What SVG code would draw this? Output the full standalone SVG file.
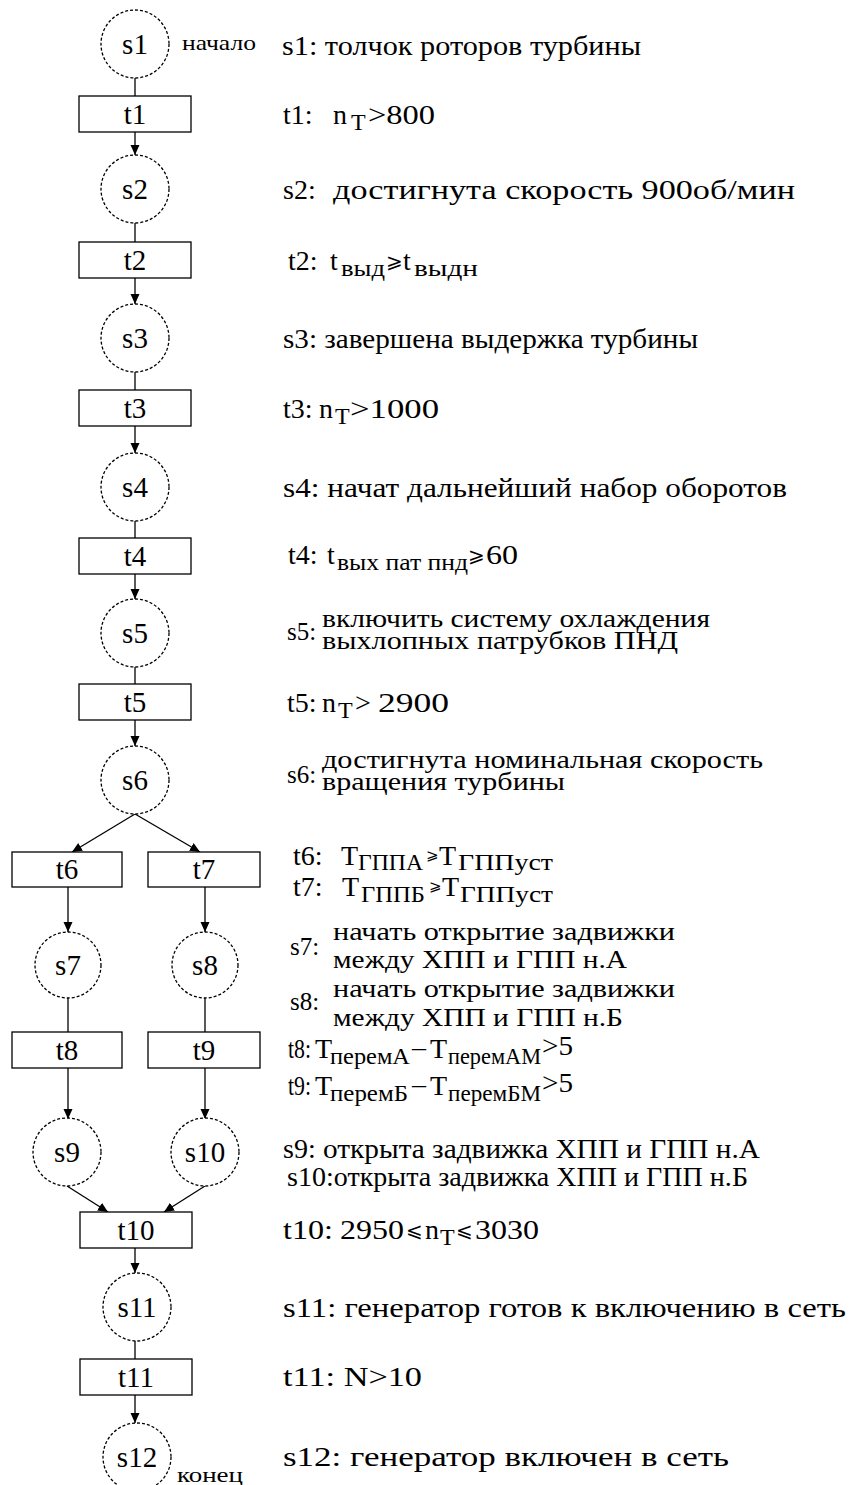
<svg xmlns="http://www.w3.org/2000/svg" width="851" height="1485" viewBox="0 0 851 1485" font-family="'Liberation Serif', 'DejaVu Serif', serif">
  <style>
    text { font-family: 'Liberation Serif', 'DejaVu Serif', serif; fill: #000; }
    .node text { font-size: 29px; text-anchor: middle; }
    .place { fill: #fff; stroke: #000; stroke-width: 1.3; stroke-dasharray: 3 2; }
    .trans { fill: #fff; stroke: #000; stroke-width: 1.3; }
    .lbl { font-size: 28px; }
    .ml { font-size: 25px; }
    .sub { font-size: 24px; }
    text.rel { font-family: 'DejaVu Serif', 'DejaVu Sans', serif; font-size: 20px; }
    text.rel.sm { font-size: 15px; }
    .small { font-size: 22px; }
    .edge { stroke: #000; stroke-width: 1.3; fill: none; }
    .arr { marker-end: url(#ah); }
  </style>
  <defs>
    <marker id="ah" markerUnits="userSpaceOnUse" markerWidth="10" markerHeight="10" refX="10" refY="4.5" orient="auto">
      <path d="M0,0 L10,4.5 L0,9 z" fill="#000"/>
    </marker>
  </defs>

  <!-- connectors -->
  <g id="connectors">
    <line class="edge" x1="135" y1="78" x2="135" y2="96"/>
    <line class="edge arr" x1="135" y1="132" x2="135" y2="155"/>
    <line class="edge" x1="135" y1="223" x2="135" y2="242"/>
    <line class="edge arr" x1="135" y1="278" x2="135" y2="304"/>
    <line class="edge" x1="135" y1="372" x2="135" y2="390"/>
    <line class="edge arr" x1="135" y1="426" x2="135" y2="453"/>
    <line class="edge" x1="135" y1="521" x2="135" y2="538"/>
    <line class="edge arr" x1="135" y1="574" x2="135" y2="599"/>
    <line class="edge" x1="135" y1="667" x2="135" y2="684"/>
    <line class="edge arr" x1="135" y1="720" x2="135" y2="746"/>
    <line class="edge arr" x1="135" y1="814" x2="72" y2="852"/>
    <line class="edge arr" x1="135" y1="814" x2="200" y2="852"/>
    <line class="edge arr" x1="68" y1="887" x2="68" y2="932"/>
    <line class="edge arr" x1="205" y1="887" x2="205" y2="932"/>
    <line class="edge" x1="68" y1="998" x2="68" y2="1032"/>
    <line class="edge" x1="205" y1="998" x2="205" y2="1032"/>
    <line class="edge arr" x1="68" y1="1068" x2="68" y2="1119"/>
    <line class="edge arr" x1="205" y1="1068" x2="205" y2="1119"/>
    <line class="edge arr" x1="67" y1="1186" x2="108" y2="1212"/>
    <line class="edge arr" x1="205" y1="1186" x2="164" y2="1212"/>
    <line class="edge arr" x1="135" y1="1248" x2="135" y2="1273"/>
    <line class="edge" x1="135" y1="1341" x2="135" y2="1359"/>
    <line class="edge arr" x1="135" y1="1395" x2="135" y2="1423"/>
  </g>

  <!-- places -->
  <g id="s1" class="node"><circle class="place" cx="135" cy="44" r="34"/><text x="135" y="54">s1</text></g>
  <g id="s2" class="node"><circle class="place" cx="135" cy="189" r="34"/><text x="135" y="199">s2</text></g>
  <g id="s3" class="node"><circle class="place" cx="135" cy="338" r="34"/><text x="135" y="348">s3</text></g>
  <g id="s4" class="node"><circle class="place" cx="135" cy="487" r="34"/><text x="135" y="497">s4</text></g>
  <g id="s5" class="node"><circle class="place" cx="135" cy="633" r="34"/><text x="135" y="643">s5</text></g>
  <g id="s6" class="node"><circle class="place" cx="135" cy="780" r="34"/><text x="135" y="790">s6</text></g>
  <g id="s7" class="node"><circle class="place" cx="68" cy="965" r="33"/><text x="68" y="975">s7</text></g>
  <g id="s8" class="node"><circle class="place" cx="205" cy="965" r="33"/><text x="205" y="975">s8</text></g>
  <g id="s9" class="node"><circle class="place" cx="67" cy="1152" r="34"/><text x="67" y="1162">s9</text></g>
  <g id="s10" class="node"><circle class="place" cx="205" cy="1152" r="34"/><text x="205" y="1162">s10</text></g>
  <g id="s11" class="node"><circle class="place" cx="137" cy="1307" r="34"/><text x="137" y="1317">s11</text></g>
  <g id="s12" class="node"><circle class="place" cx="137" cy="1457" r="34"/><text x="137" y="1467">s12</text></g>

  <!-- transitions -->
  <g id="t1" class="node"><rect class="trans" x="79" y="96" width="112" height="36"/><text x="135" y="124">t1</text></g>
  <g id="t2" class="node"><rect class="trans" x="79" y="242" width="112" height="36"/><text x="135" y="270">t2</text></g>
  <g id="t3" class="node"><rect class="trans" x="79" y="390" width="112" height="36"/><text x="135" y="418">t3</text></g>
  <g id="t4" class="node"><rect class="trans" x="79" y="538" width="112" height="36"/><text x="135" y="566">t4</text></g>
  <g id="t5" class="node"><rect class="trans" x="79" y="684" width="112" height="36"/><text x="135" y="712">t5</text></g>
  <g id="t6" class="node"><rect class="trans" x="12" y="852" width="110" height="35"/><text x="67" y="879">t6</text></g>
  <g id="t7" class="node"><rect class="trans" x="148" y="852" width="112" height="35"/><text x="204" y="879">t7</text></g>
  <g id="t8" class="node"><rect class="trans" x="12" y="1032" width="110" height="36"/><text x="67" y="1060">t8</text></g>
  <g id="t9" class="node"><rect class="trans" x="148" y="1032" width="112" height="36"/><text x="204" y="1060">t9</text></g>
  <g id="t10" class="node"><rect class="trans" x="80" y="1212" width="112" height="36"/><text x="136" y="1240">t10</text></g>
  <g id="t11" class="node"><rect class="trans" x="80" y="1359" width="112" height="36"/><text x="136" y="1387">t11</text></g>

  <!-- start / end marks -->
  <text class="small" x="182" y="50" textLength="74" lengthAdjust="spacingAndGlyphs">начало</text>
  <text class="small" x="177" y="1482" textLength="66" lengthAdjust="spacingAndGlyphs">конец</text>

  <!-- descriptions -->
  <g id="legend" class="lbl">
    <text x="282" y="55" textLength="359" lengthAdjust="spacingAndGlyphs">s1: толчок роторов турбины</text>

    <!-- t1: n_T > 800 -->
    <text x="283" y="124">t1:</text>
    <text x="333" y="124">n</text>
    <text class="sub" x="351" y="130">T</text>
    <text x="368" y="124" textLength="67" lengthAdjust="spacingAndGlyphs">&gt;800</text>

    <text x="283" y="199">s2:</text>
    <text x="333" y="199" textLength="462" lengthAdjust="spacingAndGlyphs">достигнута скорость 900об/мин</text>

    <!-- t2: t_выд >= t_выдн -->
    <text x="288" y="270">t2:</text>
    <text x="330" y="270">t</text>
    <text class="sub" x="341" y="276" textLength="44" lengthAdjust="spacingAndGlyphs">выд</text>
    <text class="rel" x="386" y="268">⩾</text>
    <text x="403" y="270">t</text>
    <text class="sub" x="414" y="276" textLength="64" lengthAdjust="spacingAndGlyphs">выдн</text>

    <text x="283" y="348" textLength="415" lengthAdjust="spacingAndGlyphs">s3: завершена выдержка турбины</text>

    <!-- t3: n_T > 1000 -->
    <text x="283" y="418">t3:</text>
    <text x="319" y="418">n</text>
    <text class="sub" x="335" y="424">T</text>
    <text x="350" y="418" textLength="89" lengthAdjust="spacingAndGlyphs">&gt;1000</text>

    <text x="283" y="497" textLength="504" lengthAdjust="spacingAndGlyphs">s4: начат дальнейший набор оборотов</text>

    <!-- t4: t_вых пат пнд >= 60 -->
    <text x="288" y="564">t4:</text>
    <text x="327" y="564">t</text>
    <text class="sub" x="337" y="570" textLength="131" lengthAdjust="spacingAndGlyphs">вых пат пнд</text>
    <text class="rel" x="468" y="562">⩾</text>
    <text x="486" y="564" textLength="32" lengthAdjust="spacingAndGlyphs">60</text>

    <text class="ml" x="287" y="640">s5:</text>
    <text class="ml" x="322" y="627" textLength="388" lengthAdjust="spacingAndGlyphs">включить систему охлаждения</text>
    <text class="ml" x="322" y="649" textLength="356" lengthAdjust="spacingAndGlyphs">выхлопных патрубков ПНД</text>

    <!-- t5: n_T > 2900 -->
    <text x="287" y="712">t5:</text>
    <text x="322" y="712">n</text>
    <text class="sub" x="338" y="718">T</text>
    <text x="355" y="712">&gt;</text>
    <text x="378" y="712" textLength="71" lengthAdjust="spacingAndGlyphs">2900</text>

    <text class="ml" x="287" y="783">s6:</text>
    <text class="ml" x="322" y="768" textLength="441" lengthAdjust="spacingAndGlyphs">достигнута номинальная скорость</text>
    <text class="ml" x="322" y="790" textLength="243" lengthAdjust="spacingAndGlyphs">вращения турбины</text>

    <!-- t6: T_ГППА >= T_ГППуст -->
    <text x="293" y="865">t6:</text>
    <text x="341" y="865">Т</text>
    <text class="sub" x="358" y="870" textLength="65" lengthAdjust="spacingAndGlyphs">ГППА</text>
    <text class="rel sm" x="426" y="860">⩾</text>
    <text x="439" y="865">Т</text>
    <text class="sub" x="458" y="870" textLength="95" lengthAdjust="spacingAndGlyphs">ГППуст</text>

    <!-- t7: T_ГППБ >= T_ГППуст -->
    <text x="293" y="896">t7:</text>
    <text x="342" y="896">Т</text>
    <text class="sub" x="361" y="902" textLength="64" lengthAdjust="spacingAndGlyphs">ГППБ</text>
    <text class="rel sm" x="429" y="891">⩾</text>
    <text x="442" y="896">Т</text>
    <text class="sub" x="460" y="902" textLength="93" lengthAdjust="spacingAndGlyphs">ГППуст</text>

    <text class="ml" x="290" y="955">s7:</text>
    <text class="ml" x="333" y="940" textLength="342" lengthAdjust="spacingAndGlyphs">начать открытие задвижки</text>
    <text class="ml" x="333" y="968" textLength="294" lengthAdjust="spacingAndGlyphs">между ХПП и ГПП н.А</text>

    <text class="ml" x="290" y="1010">s8:</text>
    <text class="ml" x="333" y="997" textLength="342" lengthAdjust="spacingAndGlyphs">начать открытие задвижки</text>
    <text class="ml" x="333" y="1026" textLength="290" lengthAdjust="spacingAndGlyphs">между ХПП и ГПП н.Б</text>

    <!-- t8: T_перемА - T_перемАМ > 5 -->
    <text x="288" y="1058" textLength="23" lengthAdjust="spacingAndGlyphs">t8:</text>
    <text x="315" y="1058">Т</text>
    <text class="sub" x="330" y="1064" textLength="80" lengthAdjust="spacingAndGlyphs">перемА</text>
    <text x="412" y="1056">–</text>
    <text x="430" y="1058">Т</text>
    <text class="sub" x="448" y="1064" textLength="93" lengthAdjust="spacingAndGlyphs">перемАМ</text>
    <text x="542" y="1055" textLength="31" lengthAdjust="spacingAndGlyphs">&gt;5</text>

    <!-- t9: T_перемБ - T_перемБМ > 5 -->
    <text x="288" y="1095" textLength="23" lengthAdjust="spacingAndGlyphs">t9:</text>
    <text x="315" y="1095">Т</text>
    <text class="sub" x="330" y="1101" textLength="78" lengthAdjust="spacingAndGlyphs">перемБ</text>
    <text x="412" y="1093">–</text>
    <text x="430" y="1095">Т</text>
    <text class="sub" x="448" y="1101" textLength="93" lengthAdjust="spacingAndGlyphs">перемБМ</text>
    <text x="542" y="1092" textLength="31" lengthAdjust="spacingAndGlyphs">&gt;5</text>

    <text x="283" y="1158">s9:</text>
    <text x="323" y="1158" textLength="437" lengthAdjust="spacingAndGlyphs">открыта задвижка ХПП и ГПП н.А</text>
    <text x="287" y="1186" textLength="461" lengthAdjust="spacingAndGlyphs">s10:открыта задвижка ХПП и ГПП н.Б</text>

    <!-- t10: 2950 <= n_T <= 3030 -->
    <text x="283" y="1239" textLength="50" lengthAdjust="spacingAndGlyphs">t10:</text>
    <text x="340" y="1239" textLength="64" lengthAdjust="spacingAndGlyphs">2950</text>
    <text class="rel" x="406" y="1237">⩽</text>
    <text x="425" y="1239">n</text>
    <text class="sub" x="440" y="1245">T</text>
    <text class="rel" x="456" y="1237">⩽</text>
    <text x="475" y="1239" textLength="64" lengthAdjust="spacingAndGlyphs">3030</text>

    <text x="283" y="1317" textLength="563" lengthAdjust="spacingAndGlyphs">s11: генератор готов к включению в сеть</text>

    <text x="283" y="1386" textLength="139" lengthAdjust="spacingAndGlyphs">t11: N&gt;10</text>

    <text x="283" y="1466" textLength="446" lengthAdjust="spacingAndGlyphs">s12: генератор включен в сеть</text>
  </g>
</svg>
